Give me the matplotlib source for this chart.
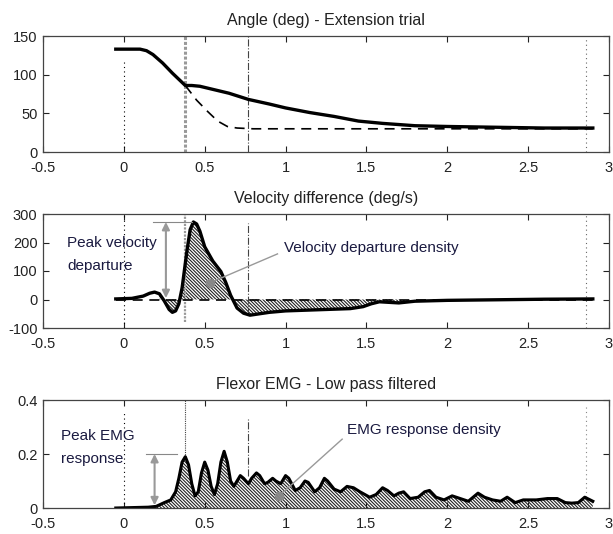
import numpy as np
import matplotlib
matplotlib.use("Agg")
from matplotlib import pyplot as plt

plt.rcParams['font.family'] = ['Liberation Sans', 'DejaVu Sans']
plt.rcParams['font.size'] = 10
plt.rcParams['hatch.linewidth'] = 0.8
plt.rcParams['hatch.color'] = '#222222'

# Angle (deg) - measured and reference trajectory
ang_t = [-0.05, 0.10, 0.14, 0.18, 0.24, 0.30, 0.35, 0.38, 0.42, 0.47, 0.55, 0.65,
         0.77, 0.9, 1.0, 1.15, 1.3, 1.45, 1.6, 1.8, 2.0, 2.3, 2.6, 2.9]
ang_v = [133, 133, 131, 126, 115, 102, 92, 86, 86, 85, 81, 76, 68, 62, 57, 51, 46,
         40, 37, 34, 33, 32, 31, 31]
ref_t = [0.38, 0.45, 0.52, 0.58, 0.64, 0.70, 0.80, 1.5, 2.2, 2.9]
ref_v = [86, 67, 52, 40, 33, 31, 30, 30, 30, 30]

# Velocity difference (deg/s)
vel_t = [-0.05, 0.05, 0.12, 0.16, 0.19, 0.22, 0.25, 0.28, 0.30, 0.32, 0.34, 0.36,
         0.39, 0.41, 0.43, 0.45, 0.47, 0.50, 0.55, 0.60, 0.63, 0.66, 0.70, 0.74,
         0.78, 0.9, 1.0, 1.2, 1.4, 1.48, 1.53, 1.58, 1.7, 1.8, 2.0, 2.3, 2.6, 2.9]
vel_v = [2, 4, 12, 22, 26, 20, -5, -35, -45, -40, -15, 40, 170, 245, 272, 265, 240,
         185, 135, 98, 60, 15, -30, -48, -55, -45, -40, -36, -32, -25, -15, -8,
         -12, -6, -3, -1, 1, 2]

# Flexor EMG - low pass filtered
emg_t = [-0.05, 0.15, 0.2, 0.25, 0.29, 0.32, 0.34, 0.36, 0.38, 0.40, 0.42, 0.44,
         0.46, 0.48, 0.50, 0.52, 0.54, 0.56, 0.58, 0.60, 0.62, 0.64, 0.66, 0.68,
         0.70, 0.72, 0.74, 0.77, 0.79, 0.82, 0.84, 0.87, 0.89, 0.92, 0.94, 0.97,
         1.00, 1.02, 1.06, 1.09, 1.12, 1.14, 1.18, 1.21, 1.24, 1.26, 1.30, 1.34,
         1.38, 1.42, 1.46, 1.52, 1.56, 1.60, 1.63, 1.67, 1.70, 1.73, 1.77, 1.82,
         1.86, 1.89, 1.93, 1.98, 2.03, 2.08, 2.13, 2.16, 2.19, 2.23, 2.28, 2.33,
         2.37, 2.42, 2.47, 2.55, 2.62, 2.68, 2.73, 2.77, 2.81, 2.85, 2.9]
emg_v = [0.0, 0.003, 0.006, 0.02, 0.03, 0.06, 0.11, 0.17, 0.19, 0.16, 0.09, 0.045,
         0.06, 0.13, 0.17, 0.14, 0.08, 0.05, 0.09, 0.17, 0.21, 0.17, 0.10, 0.08,
         0.10, 0.12, 0.11, 0.09, 0.11, 0.13, 0.12, 0.09, 0.095, 0.11, 0.10, 0.09,
         0.12, 0.11, 0.065, 0.075, 0.10, 0.095, 0.06, 0.075, 0.11, 0.10, 0.07,
         0.06, 0.08, 0.075, 0.06, 0.04, 0.05, 0.075, 0.065, 0.045, 0.055, 0.06,
         0.035, 0.04, 0.06, 0.065, 0.04, 0.03, 0.045, 0.035, 0.025, 0.04, 0.055,
         0.04, 0.03, 0.025, 0.04, 0.02, 0.03, 0.03, 0.035, 0.035, 0.02, 0.018,
         0.02, 0.04, 0.025]

t_onset = 0.0
t_peak = 0.38
t_end = 0.77
t_stop = 2.86

titles = ['Angle (deg) - Extension trial', 'Velocity difference (deg/s)',
          'Flexor EMG - Low pass filtered']
ylims = [(0, 150), (-100, 300), (0, 0.4)]
yticks = [[0, 50, 100, 150], [-100, 0, 100, 200, 300], [0, 0.2, 0.4]]
ylabels = [['0', '50', '100', '150'], ['-100', '0', '100', '200', '300'], ['0', '0.2', '0.4']]
xticks = [-0.5, 0, 0.5, 1, 1.5, 2, 2.5, 3]
xlabels = ['-0.5', '0', '0.5', '1', '1.5', '2', '2.5', '3']

fig = plt.figure(figsize=(6.13, 5.34), dpi=100)
W = 566 / 613
L = 43 / 613
ax1 = fig.add_axes([L, 1 - 152 / 534, W, 116 / 534])
ax2 = fig.add_axes([L, 1 - 328 / 534, W, 114 / 534])
ax3 = fig.add_axes([L, 1 - 508 / 534, W, 108 / 534])
axes = [ax1, ax2, ax3]

hatch = '\\\\\\\\\\\\\\\\\\\\'
txtc = '#1a1a40'

for i, ax in enumerate(axes):
    ax.set_xlim(-0.5, 3)
    ax.set_ylim(*ylims[i])
    ax.set_xticks(xticks)
    ax.set_xticklabels(xlabels)
    ax.set_yticks(yticks[i])
    ax.set_yticklabels(ylabels[i])
    ax.tick_params(direction='in', top=True, right=True, length=4, width=0.8,
                   labelsize=10.5, colors='#222222')
    ax.tick_params(axis='x', pad=6.5)
    ax.tick_params(axis='y', pad=4)
    for s in ax.spines.values():
        s.set_color('#444444')
        s.set_linewidth(0.9)
    ax.set_title(titles[i], fontsize=11.5, pad=8, color='#222222')

# --- Angle ---
ax1.vlines(t_onset, 0, 118, colors='k', linestyles=(0, (1, 3)), lw=0.8)
ax1.vlines(t_peak, 0, 150, colors='#999999', linestyles=(0, (1, 0.6)), lw=2.2)
ax1.vlines(t_end, 0, 150, colors='#444444', linestyles='dashdot', lw=0.8)
ax1.vlines(t_stop, 0, 150, colors='#666666', linestyles=(0, (1, 3)), lw=0.8)
ax1.plot(ref_t, ref_v, color='k', lw=1.2, ls=(0, (6, 4)))
ax1.plot(ang_t, ang_v, color='k', lw=2.4)

# --- Velocity difference ---
vt = np.array(vel_t)
vv = np.array(vel_v)
ax2.fill_between(vt, vv, 0, where=(vt >= 0.2) & (vt <= 1.75), facecolor='white',
                 edgecolor='#222222', hatch=hatch, lw=0, interpolate=True)
ax2.vlines(t_onset, -100, 300, colors='k', linestyles=(0, (1, 3)), lw=0.8)
ax2.vlines(t_peak, -80, 300, colors='#999999', linestyles=(0, (1, 0.6)), lw=1.6)
ax2.vlines(t_end, -55, 270, colors='#444444', linestyles='dashdot', lw=0.8)
ax2.vlines(t_stop, -100, 300, colors='#666666', linestyles=(0, (1, 3)), lw=0.8)
ax2.plot([-0.05, 2.9], [0, 0], color='k', lw=1.2, ls=(0, (6, 4)))
ax2.plot(vel_t, vel_v, color='k', lw=2.4)

ax2.plot([0.18, 0.42], [272, 272], color='#888888', lw=0.8)
ax2.annotate('', xy=(0.26, 5), xytext=(0.26, 272),
             arrowprops=dict(arrowstyle='<|-|>', color='#999999', lw=1.5,
                             mutation_scale=11, shrinkA=0, shrinkB=0))
ax2.text(-0.35, 200, 'Peak velocity', color=txtc, fontsize=11, va='center')
ax2.text(-0.35, 118, 'departure', color=txtc, fontsize=11, va='center')
ax2.plot([0.53, 0.95], [58, 160], color='#999999', lw=1.0)
ax2.plot([0.53], [58], 'o', color='#888888', ms=6)
ax2.text(0.99, 182, 'Velocity departure density', color=txtc, fontsize=11,
         va='center')

# --- EMG ---
et = np.array(emg_t)
ev = np.array(emg_v)
ax3.fill_between(et, ev, 0, where=et >= 0.2, facecolor='white', edgecolor='#222222',
                 hatch=hatch, lw=0, interpolate=True)
ax3.vlines(t_onset, 0, 0.36, colors='k', linestyles=(0, (1, 3)), lw=0.8)
ax3.vlines(t_peak, 0.19, 0.4, colors='#444444', linestyles=(0, (1, 1)), lw=0.8)
ax3.vlines(t_end, 0.12, 0.33, colors='#444444', linestyles='dashdot', lw=0.8)
ax3.vlines(t_stop, 0.04, 0.38, colors='#888888', linestyles=(0, (1, 3)), lw=0.8)
ax3.plot(emg_t, emg_v, color='k', lw=2.2)

ax3.plot([0.14, 0.33], [0.2, 0.2], color='#888888', lw=0.8)
ax3.annotate('', xy=(0.19, 0.01), xytext=(0.19, 0.2),
             arrowprops=dict(arrowstyle='<|-|>', color='#999999', lw=1.5,
                             mutation_scale=11, shrinkA=0, shrinkB=0))
ax3.text(-0.39, 0.265, 'Peak EMG', color=txtc, fontsize=11, va='center')
ax3.text(-0.39, 0.18, 'response', color=txtc, fontsize=11, va='center')
ax3.plot([0.96, 1.35], [0.045, 0.255], color='#999999', lw=1.0)
ax3.plot([0.96], [0.045], 'o', color='#888888', ms=6)
ax3.text(1.38, 0.29, 'EMG response density', color=txtc, fontsize=11,
         va='center')

fig.savefig('out.png', dpi=100)
